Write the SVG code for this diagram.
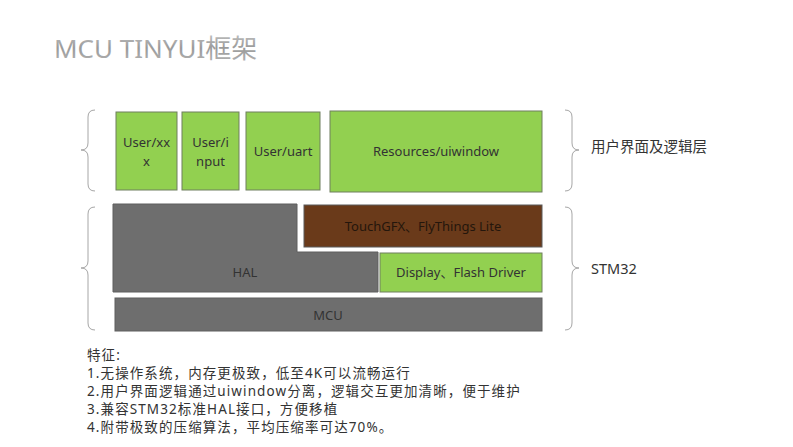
<svg xmlns="http://www.w3.org/2000/svg" width="793" height="447" viewBox="0 0 793 447">
<defs>
<linearGradient id="tg" x1="0" y1="0" x2="0" y2="1">
<stop offset="0" stop-color="#c8c8c8"/>
<stop offset="0.5" stop-color="#9a9a9a"/>
<stop offset="1" stop-color="#b8b8b8"/>
</linearGradient>
</defs>
<style>
text{font-family:"Noto Sans","Noto Sans CJK SC",sans-serif;}
.g{fill:#92d050;stroke:#6f7f5f;stroke-width:1;}
.d{fill:#6e6e6e;stroke:#5e5e5e;stroke-width:1;}
.b{fill:#6a3a1a;stroke:#5a5a5a;stroke-width:1;}
.t{font-size:13px;fill:#333;text-anchor:middle;}
.br{fill:none;stroke:#a6a6a6;stroke-width:1;}
.lbl{font-size:14.5px;fill:#333;}
.f{font-size:13.5px;fill:#333;letter-spacing:1.1px;}
</style>
<rect width="793" height="447" fill="#fff"/>
<text x="54" y="58" font-size="26" fill="url(#tg)" style="font-family:'Noto Sans','Noto Sans CJK SC',sans-serif">MCU TINYUI框架</text>

<g id="user-xxx"><rect class="g" x="116" y="112" width="61" height="78"/><text class="t" x="146.5" y="147">User/xx</text><text class="t" x="146.5" y="166">x</text></g>
<g id="user-input"><rect class="g" x="182" y="112" width="57" height="78"/><text class="t" x="210.5" y="147">User/i</text><text class="t" x="210.5" y="166">nput</text></g>
<g id="user-uart"><rect class="g" x="246" y="112" width="74" height="78"/><text class="t" x="283" y="156">User/uart</text></g>
<g id="resources"><rect class="g" x="330" y="111" width="212" height="81"/><text class="t" x="436" y="156">Resources/uiwindow</text></g>

<g id="hal"><path class="d" d="M113,204 H297 V252 H378 V292 H113 Z"/><text class="t" x="245" y="277">HAL</text></g>
<g id="touchgfx"><rect class="b" x="304" y="205" width="238" height="42"/><text class="t" x="423" y="231" style="fill:#24160c">TouchGFX、FlyThings Lite</text></g>
<g id="display"><rect class="g" x="380" y="253" width="162" height="39"/><text class="t" x="461" y="277">Display、Flash Driver</text></g>
<g id="mcu"><rect class="d" x="115" y="298" width="427" height="33"/><text class="t" x="328" y="320">MCU</text></g>

<g id="braces">
<path class="br" d="M95,110 Q88,110 88,117 V143 Q88,150 81,150 Q88,150 88,157 V184 Q88,191 95,191"/>
<path class="br" d="M565,110 Q572,110 572,117 V143 Q572,150 579,150 Q572,150 572,157 V184 Q572,191 565,191"/>
<path class="br" d="M95,207 Q88,207 88,214 V261 Q88,268 81,268 Q88,268 88,275 V323 Q88,330 95,330"/>
<path class="br" d="M565,207 Q572,207 572,214 V261 Q572,268 579,268 Q572,268 572,275 V323 Q572,330 565,330"/>
</g>
<text class="lbl" x="591" y="152">用户界面及逻辑层</text>
<text class="lbl" x="591" y="274">STM32</text>

<g id="features">
<text class="f" x="87" y="360">特征:</text>
<text class="f" x="87" y="378">1.无操作系统，内存更极致，低至4K可以流畅运行</text>
<text class="f" x="87" y="396">2.用户界面逻辑通过uiwindow分离，逻辑交互更加清晰，便于维护</text>
<text class="f" x="87" y="414">3.兼容STM32标准HAL接口，方便移植</text>
<text class="f" x="87" y="432">4.附带极致的压缩算法，平均压缩率可达70%。</text>
</g>
</svg>
